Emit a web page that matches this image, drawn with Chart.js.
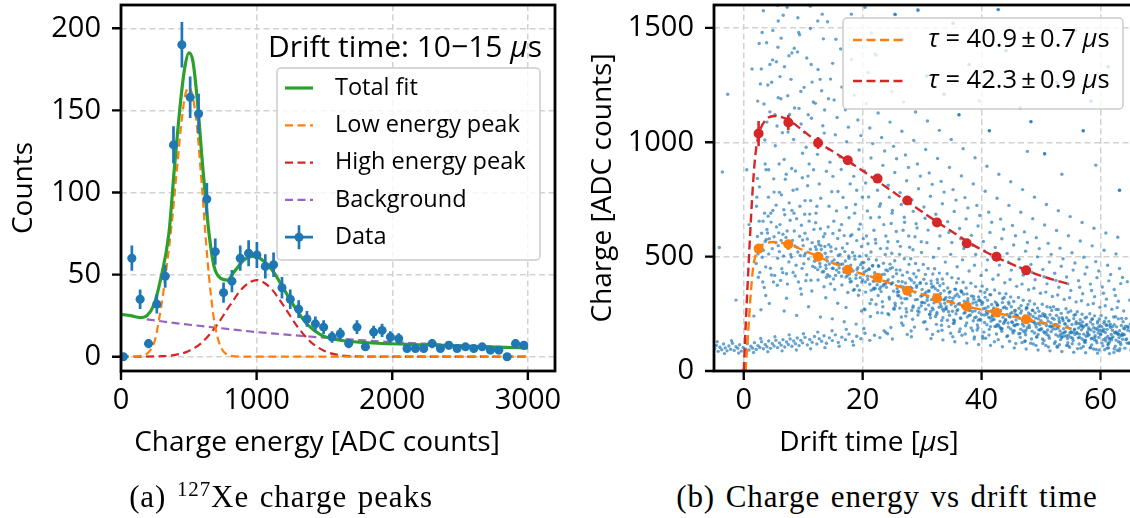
<!DOCTYPE html>
<html>
<head>
<meta charset="utf-8">
<script src="https://cdn.jsdelivr.net/npm/chart.js@4.4.1/dist/chart.umd.min.js"></script>
<style>
html, body { margin: 0; padding: 0; background: #fff; width: 1130px; height: 518px; overflow: hidden; position: relative; }
canvas { position: absolute; top: 0; }
#left { left: 0; }
#right { left: 575px; }
.xt { position: absolute; font-family: 'Open Sans', sans-serif; font-size: 28px; color: #000; white-space: nowrap; transform: translate(-50%, -50%); }
.cap { position: absolute; font-family: 'Liberation Serif', serif; font-size: 31px; letter-spacing: 0.9px; word-spacing: 2px; color: #000; white-space: nowrap; transform: translate(-50%, -50%); }
.cap sup { font-size: 21px; vertical-align: 11px; line-height: 0; }
</style>
</head>
<body>
<canvas id="left" width="565" height="470"></canvas>
<canvas id="right" width="565" height="470"></canvas>
<div class="xt" style="left:317px; top:440px;">Charge energy [ADC counts]</div>
<div class="xt" style="left:869px; top:440px;">Drift time [<i>μ</i>s]</div>
<div class="cap" style="left:281px; top:497px;">(a) <sup>127</sup>Xe charge peaks</div>
<div class="cap" style="left:887px; top:497px;">(b) Charge energy vs drift time</div>
<script>
// ---- (a) charge spectrum, drift time 10-15 us ----
const binCenters = [18, 80, 141, 203, 264, 326, 387, 449, 510, 572, 633, 695, 756, 818, 879, 941, 1002, 1064, 1125, 1187,
  1248, 1310, 1371, 1433, 1494, 1556, 1617, 1679, 1740, 1802, 1863, 1925, 1986, 2048, 2109, 2171, 2232, 2294, 2355, 2417,
  2478, 2540, 2601, 2663, 2724, 2786, 2847, 2909, 2970];
const counts = [0, 60, 35, 8, 32, 49, 129, 190, 158, 148, 96, 64, 39, 46, 60, 63, 62, 55, 56, 42,
  35, 29, 23, 20, 18, 12, 14, 8, 18, 6, 15, 16, 12, 11, 5, 5, 5, 8, 5, 7,
  5, 6, 5, 6, 4, 4, 0, 8, 7];
const countErr = [0, 7.7, 5.9, 2.8, 5.7, 7, 11.4, 13.8, 12.6, 12.2, 9.8, 8, 6.2, 6.8, 7.7, 7.9, 7.9, 7.4, 7.5, 6.5,
  5.9, 5.4, 4.8, 4.5, 4.2, 3.5, 3.7, 2.8, 4.2, 2.4, 3.9, 4, 3.5, 3.3, 2.2, 2.2, 2.2, 2.8, 2.2, 2.6,
  2.2, 2.4, 2.2, 2.4, 2, 2, 0, 2.8, 2.6];
const binHalfWidth = 30;

const totalFit = [[0, 25.8], [70, 25], [140, 23.8], [193, 25.2], [242, 31.5], [291, 46.7], [353, 75], [395, 116], [440, 156],
  [470, 176], [501, 185], [530, 180], [563, 156], [600, 118], [625, 95], [649, 75], [686, 55], [736, 47.7], [785, 46.7],
  [835, 51.8], [909, 59], [983, 61.3], [1057, 57.9], [1131, 50.8], [1205, 40.6], [1279, 30.5], [1378, 19.3], [1477, 13.2],
  [1575, 10.6], [1822, 8.5], [2316, 7.1], [3000, 5.3]];
const lowPeak = [[0, 0], [150, 0.5], [217, 4], [250, 10], [279, 22], [310, 38], [340, 57], [373, 80], [410, 112], [440, 138],
  [470, 158], [500, 164], [530, 158], [560, 140], [600, 100], [625, 72], [650, 48], [680, 26], [703, 15], [730, 7], [770, 2],
  [850, 0.2], [950, 0], [3000, 0]];
const highPeak = [[0, 0], [300, 0.3], [400, 1.1], [500, 3.5], [600, 8.9], [700, 18.4], [800, 30.9], [900, 42.1], [1000, 46.7],
  [1100, 42.1], [1200, 30.9], [1300, 18.4], [1400, 8.9], [1500, 3.5], [1600, 1.1], [1700, 0.3], [1800, 0.1], [2000, 0], [3000, 0]];
const background = [[190, 22.7], [400, 20.5], [600, 18.6], [800, 16.8], [1000, 15], [1200, 13.6], [1400, 12.2], [1600, 11],
  [1800, 9.9], [2000, 8.9], [2300, 7.7], [2600, 6.6], [3000, 5.2]];

const leftXTicks = [0, 1000, 2000, 3000];
const leftYTicks = [0, 50, 100, 150, 200];
const leftNote = 'Drift time: 10\u221215 \u03bcs';

// ---- (b) charge vs drift time ----
const binTimes = [2.5, 7.5, 12.5, 17.5, 22.5, 27.5, 32.5, 37.5, 42.5, 47.5];
const highCharge = [1038, 1086, 997, 921, 841, 745, 649, 558, 500, 440];
const highErr = [55, 33, 26, 15, 14, 12, 12, 12, 12, 12];
const lowCharge = [535, 554, 499, 443, 408, 351, 318, 282, 256, 226];
const lowErr = [16, 12, 10, 9, 9, 8, 8, 8, 8, 8];

const highFit = [[0, 0], [0.4, 240], [0.8, 455], [1.4, 750], [1.9, 930], [2.5, 1030], [3.8, 1100], [5.2, 1115], [6.6, 1108],
  [7.5, 1098], [10, 1050], [12.5, 1000], [15, 960], [17.5, 918], [20, 875], [22.5, 830], [25, 785], [27.5, 740], [30, 696],
  [32.5, 652], [35, 610], [37.5, 568], [40, 530], [42.5, 497], [45, 468], [47.5, 440], [50, 416], [52.5, 396], [55, 378]];
const lowFit = [[0.3, 0], [0.7, 150], [1.1, 310], [1.6, 455], [2.5, 535], [3.5, 556], [5, 564], [6, 562], [7.5, 554], [10, 528],
  [12.5, 500], [15, 472], [17.5, 445], [20, 424], [22.5, 404], [25, 380], [27.5, 356], [30, 336], [32.5, 317], [35, 299],
  [37.5, 282], [40, 268], [42.5, 254], [45, 240], [47.5, 226], [50, 212], [52.5, 199], [55, 186]];
const fitLabels = ['\u03c4 = 40.9\u2009\u00b1\u20090.7 \u03bcs', '\u03c4 = 42.3\u2009\u00b1\u20090.9 \u03bcs'];

const rightXTicks = [0, 20, 40, 60];
const rightYTicks = [0, 500, 1000, 1500];

// individual events [drift time, charge]
const lowBand = [
  [-4.9, 98], [-4.6, 112], [-4.3, 86], [-4.0, 104], [-3.7, 93], [-3.4, 118], [-3.1, 101], [-2.8, 88], [-2.5, 109], [-2.2, 95],
  [-1.9, 121], [-1.6, 90], [-1.3, 106], [-1.0, 99], [-0.7, 115], [-0.4, 87], [-0.1, 103], [0.3, 96], [0.6, 119], [0.9, 92],
  [1.2, 108], [1.5, 100], [1.8, 124], [2.1, 94], [2.4, 111], [2.7, 103], [3.0, 128], [3.3, 97], [3.6, 116], [3.9, 106],
  [4.2, 131], [4.5, 99], [4.8, 120], [5.1, 109], [5.4, 134], [5.7, 102], [6.0, 123], [6.3, 113], [6.6, 137], [6.9, 105],
  [7.2, 127], [7.5, 116], [7.8, 140], [8.1, 108], [8.4, 131], [8.7, 119], [9.0, 144], [9.3, 111], [9.6, 134], [9.9, 123],
  [10.3, 147], [10.7, 114], [11.1, 138], [11.5, 126], [11.9, 151], [12.3, 118], [12.7, 141], [13.1, 130], [13.5, 154], [13.9, 121],
  [14.4, 145], [14.9, 133], [15.4, 158], [15.9, 125], [16.5, 148], [17.1, 137], [17.7, 161], [18.3, 129], [19.0, 152], [19.7, 141],
  [20.4, 165], [21.2, 134], [22.0, 156], [22.9, 146], [23.9, 168], [25.0, 140],
  [-4.45, 128], [-3.25, 76], [-2.05, 132], [-0.85, 79], [0.45, 135], [1.65, 81], [2.85, 142], [4.05, 84], [5.25, 150], [6.45, 88],
  [7.65, 158], [8.85, 92], [10.05, 163], [11.25, 97], [12.45, 170], [13.65, 102], [14.85, 176], [16.05, 108], [17.25, 182], [18.45, 113]
];
const sparseEvents = [
  [-4.1, 540], [-3.6, 870], [-2.7, 1210], [-1.3, 310], [0.5, 880], [0.9, 640], [1.4, 1320], [1.7, 240],
  [22.3, 1380], [26.7, 1450], [30.8, 1290], [35.2, 1520], [39.6, 1180], [44.1, 1400], [48.3, 1090], [52.7, 1260], [57.1, 1050],
  [61.3, 1330], [25.4, 1560], [33.7, 1210], [42.8, 1580], [50.6, 950], [59.2, 900], [46.5, 1150], [37.9, 1340], [55.8, 1490],
  [29.3, 1580], [18.1, 1560], [11.2, 1595], [7.3, 1590], [15.5, 1450], [36.2, 1120], [41.3, 1050], [53.5, 860], [63.2, 790],
  [58.4, 1180], [47.7, 960], [20.4, 1590], [3.1, 1480], [5.8, 1530], [9.4, 1470], [13.2, 1560], [4.4, 1340], [8.1, 1390],
  [2.15, 720], [2.65, 805], [3.25, 655], [3.75, 880], [4.15, 760], [4.55, 690], [5.05, 840], [5.45, 725], [5.95, 905], [6.35, 770],
  [6.75, 705], [7.15, 860], [7.65, 735], [8.05, 885], [8.45, 690], [8.95, 795], [9.45, 720], [9.85, 845], [10.25, 685], [10.75, 810],
  [11.25, 745], [11.75, 880], [2.45, 410], [3.45, 365], [4.65, 420], [5.65, 375], [6.55, 430], [7.35, 380], [8.65, 415], [9.55, 360],
  [10.45, 395], [11.45, 350], [2.35, 1180], [2.95, 1320], [3.55, 1010], [4.05, 1250], [4.85, 1360], [5.25, 1120], [5.75, 1415],
  [6.25, 1190], [6.85, 1330], [7.45, 1045], [7.95, 1275], [8.55, 1150], [9.05, 1395], [9.65, 1080], [10.15, 1240], [10.85, 1120],
  [11.35, 1340], [12.05, 1170], [12.85, 1275], [13.55, 1040], [14.25, 1190], [14.95, 1345], [3.85, 1435], [6.65, 1555], [9.25, 1480],
  [12.45, 1530], [12.15, 690], [12.95, 755], [13.65, 600], [14.35, 720], [15.15, 655], [15.85, 785], [16.45, 640], [17.25, 715],
  [17.95, 590], [18.65, 690], [19.35, 620], [19.95, 760], [20.65, 590], [21.35, 670], [22.15, 575], [22.85, 720], [23.55, 640],
  [24.25, 565], [24.95, 690], [25.65, 610], [26.35, 545], [27.05, 650], [27.75, 590], [28.45, 530], [29.15, 625], [29.85, 565],
  [24.75, 190], [28.15, 175], [31.75, 160], [35.15, 150], [38.75, 140], [42.15, 128], [45.75, 120], [49.15, 112], [52.75, 104],
  [56.15, 98], [59.75, 92], [63.15, 88], [26.55, 210], [33.35, 178], [40.15, 152], [47.35, 131], [54.55, 111], [61.35, 101]
];
const bandInfill = [
  [12.05, 543], [12.45, 443], [12.65, 553], [12.85, 456], [13.05, 531], [13.45, 435], [13.65, 544], [13.85, 448],
  [14.05, 481], [14.45, 414], [14.65, 542], [14.85, 478], [15.05, 448], [15.45, 418], [15.65, 471], [15.85, 471],
  [16.05, 450], [16.45, 414], [16.65, 468], [16.85, 433], [17.05, 434], [17.45, 417], [17.65, 503], [17.85, 403],
  [18.05, 446], [18.45, 353], [18.65, 503], [18.85, 405], [19.05, 444], [19.45, 353], [19.65, 465], [19.85, 389],
  [20.05, 450], [20.45, 389], [20.65, 438], [20.85, 400], [20.25, 271], [21.05, 445], [21.45, 353], [21.65, 460], [21.85, 362], [21.25, 295],
  [22.05, 394], [22.45, 377], [22.65, 460], [22.85, 359], [22.25, 292], [23.05, 367], [23.45, 373], [23.65, 423], [23.85, 381], [23.25, 254],
  [24.05, 391], [24.45, 323], [24.65, 447], [24.85, 381], [24.25, 251], [25.05, 386], [25.45, 296], [25.65, 442], [25.85, 344], [25.25, 274],
  [26.05, 347], [26.45, 319], [26.65, 390], [26.85, 367], [26.25, 275], [27.05, 343], [27.45, 316], [27.65, 363], [27.85, 362], [27.25, 240],
  [28.05, 366], [28.45, 278], [28.65, 386], [28.85, 311], [28.25, 265], [29.05, 366], [29.45, 275], [29.65, 382], [29.85, 285], [29.25, 262],
  [30.05, 330], [30.45, 298], [30.65, 344], [30.85, 309], [30.25, 213], [30.55, 422], [31.05, 350], [31.45, 260], [31.65, 366], [31.85, 269], [31.25, 248], [31.55, 381],
  [32.05, 333], [32.45, 248], [32.65, 352], [32.85, 279], [32.25, 238], [32.55, 400], [33.05, 294], [33.45, 271], [33.65, 312], [33.85, 314], [33.25, 200], [33.55, 382],
  [34.05, 281], [34.45, 259], [34.65, 322], [34.85, 303], [34.25, 222], [34.55, 342], [35.05, 304], [35.45, 220], [35.65, 356], [35.85, 264], [35.25, 208], [35.55, 328],
  [36.05, 292], [36.45, 232], [36.65, 344], [36.85, 285], [36.25, 172], [36.55, 350], [37.05, 253], [37.45, 268], [37.65, 305], [37.85, 270], [37.25, 162], [37.55, 337],
  [38.05, 265], [38.45, 259], [38.65, 326], [38.85, 233], [38.25, 188], [38.55, 297], [39.05, 301], [39.45, 222], [39.65, 311], [39.85, 223], [39.25, 179], [39.55, 308],
  [40.05, 292], [40.45, 245], [40.65, 274], [40.85, 248], [40.25, 143], [40.55, 343], [41.05, 254], [41.45, 231], [41.65, 263], [41.85, 238], [41.25, 157], [41.55, 333],
  [42.05, 276], [42.45, 195], [42.65, 287], [42.85, 201], [42.25, 195], [42.55, 295], [43.05, 261], [43.45, 185], [43.65, 276], [43.85, 214], [43.25, 187], [43.55, 316],
  [44.05, 224], [44.45, 210], [44.65, 238], [44.85, 251], [44.25, 151], [44.55, 301], [45.05, 214], [45.45, 200], [45.65, 250], [45.85, 242], [45.25, 175], [45.55, 264],
  [46.05, 238], [46.45, 164], [46.65, 286], [46.85, 205], [46.25, 163], [46.55, 253], [47.05, 228], [47.45, 178], [47.65, 276], [47.85, 228], [47.25, 129], [47.55, 277],
  [48.05, 190], [48.45, 216], [48.65, 238], [48.85, 214], [48.25, 121], [48.55, 266], [49.05, 203], [49.45, 208], [49.65, 261], [49.85, 179], [49.25, 148], [49.55, 228],
  [50.05, 240], [50.45, 172], [50.65, 247], [50.85, 170], [50.25, 140], [50.55, 241], [51.05, 232], [51.45, 196], [51.65, 211], [51.85, 196], [51.25, 105], [51.55, 278],
  [52.05, 196], [52.45, 184], [52.65, 202], [52.85, 187], [52.25, 120], [52.55, 269], [53.05, 220], [53.45, 150], [53.65, 228], [53.85, 152], [53.25, 159], [53.55, 233],
  [54.05, 207], [54.45, 142], [54.65, 219], [54.85, 167], [54.25, 153], [54.55, 257], [55.05, 172], [55.45, 169], [55.65, 183], [55.85, 206], [55.25, 119], [55.55, 244],
  [56.05, 164], [56.45, 161], [56.65, 197], [56.85, 199], [56.25, 145], [56.55, 209], [57.05, 190], [57.45, 126], [57.65, 235], [57.85, 164], [57.25, 134], [57.55, 200],
  [58.05, 182], [58.45, 141], [58.65, 227], [58.85, 189], [58.25, 101], [58.55, 226], [59.05, 147], [59.45, 181], [59.65, 192], [59.85, 177], [59.25, 94], [59.55, 218],
  [60.05, 162], [60.45, 174], [60.65, 217], [60.85, 143], [60.25, 122], [60.55, 183], [61.05, 201], [61.45, 140], [61.65, 205], [61.85, 136], [61.25, 115], [61.55, 198],
  [62.05, 194], [62.45, 166], [62.65, 171], [62.85, 164], [62.25, 81], [62.55, 237], [63.05, 160], [63.45, 155], [63.65, 163], [63.85, 157], [63.25, 97], [63.55, 230],
  [64.05, 185], [64.45, 122], [64.65, 190], [64.85, 123], [64.25, 137], [64.55, 195], [65.05, 174], [65.45, 115], [65.25, 188]
];
const bandEvents = [
  [2.1, 470], [2.3, 588], [2.4, 512], [2.6, 655], [2.7, 431], [2.9, 547], [3.0, 602], [3.2, 389], [3.3, 528], [3.5, 690], [3.6, 566], [3.7, 455], [3.9, 619], [2.2, 540], [3.1, 497], [3.8, 575],
  [2.5, 1012], [3.4, 1167], [2.8, 1255], [3.6, 905], [2.3, 842], [3.9, 1088], [2.6, 1432], [3.3, 1575], [2.9, 268], [3.7, 330], [2.2, 760],
  [4.0, 603], [4.2, 512], [4.3, 578], [4.5, 449], [4.6, 651], [4.8, 535], [4.9, 702], [5.1, 587], [5.2, 418], [5.4, 561], [5.5, 630], [5.7, 493], [5.8, 548], [4.1, 677], [5.0, 389], [5.9, 604],
  [4.4, 1133], [5.3, 985], [4.7, 1262], [5.6, 1071], [4.2, 880], [5.8, 1195], [4.9, 1489], [5.5, 1352], [4.3, 295], [5.1, 782], [5.7, 1598],
  [6.0, 522], [6.1, 640], [6.3, 571], [6.4, 447], [6.6, 598], [6.7, 503], [6.9, 683], [7.0, 551], [7.2, 425], [7.3, 612], [7.5, 536], [7.6, 477], [7.8, 659], [6.2, 396], [7.1, 584], [7.9, 509],
  [6.5, 1042], [7.4, 1203], [6.8, 925], [7.7, 1121], [6.1, 1287], [7.0, 838], [6.3, 1455], [7.6, 1378], [6.8, 262], [7.2, 318], [6.0, 781],
  [8.0, 498], [8.2, 571], [8.3, 431], [8.5, 612], [8.6, 547], [8.8, 462], [8.9, 666], [9.1, 520], [9.2, 389], [9.4, 589], [9.5, 505], [9.7, 637], [9.8, 448], [8.1, 702], [9.0, 540], [9.9, 573],
  [8.4, 1012], [9.3, 1148], [8.7, 874], [9.6, 1222], [8.2, 1081], [9.9, 952], [8.5, 1411], [9.1, 1544], [8.9, 243], [9.7, 336], [8.3, 790],
  [10.0, 548], [10.1, 469], [10.3, 602], [10.4, 515], [10.6, 421], [10.7, 577], [10.9, 490], [11.0, 655], [11.2, 532], [11.3, 397], [11.5, 561], [11.6, 458], [11.8, 619], [10.2, 505], [11.1, 686], [11.9, 480],
  [10.5, 978], [11.4, 1105], [10.8, 852], [11.7, 1176], [10.2, 1043], [11.0, 905], [10.6, 1368], [11.5, 1263], [10.9, 281], [11.2, 1497], [10.3, 745],
  [12.0, 452], [12.2, 531], [12.3, 489], [12.5, 398], [12.6, 566], [12.8, 470], [12.9, 622], [13.1, 505], [13.2, 433], [13.4, 587], [13.5, 368], [13.7, 515], [13.8, 462], [12.1, 648], [13.0, 547], [13.9, 410],
  [12.4, 947], [13.3, 1072], [12.7, 818], [13.6, 1141], [12.2, 1006], [13.9, 873], [12.5, 1318], [13.1, 1225], [12.9, 236], [13.8, 320], [12.3, 720], [13.4, 1452],
  [14.0, 497], [14.1, 421], [14.3, 552], [14.4, 468], [14.6, 381], [14.7, 523], [14.9, 449], [15.0, 601], [15.2, 486], [15.3, 356], [15.5, 534], [15.6, 441], [15.8, 579], [14.2, 630], [15.1, 402], [15.9, 505],
  [14.5, 913], [15.4, 1033], [14.8, 784], [15.7, 1108], [14.3, 970], [15.0, 851], [14.6, 1276], [15.2, 1185], [14.9, 228], [15.6, 700], [14.1, 1527], [15.8, 296],
  [16.0, 431], [16.2, 509], [16.3, 466], [16.5, 376], [16.6, 538], [16.8, 447], [16.9, 592], [17.1, 481], [17.2, 411], [17.4, 557], [17.5, 343], [17.7, 493], [17.8, 424], [16.1, 615], [17.0, 522], [17.9, 389],
  [16.4, 881], [17.3, 1002], [16.7, 759], [17.6, 1066], [16.2, 936], [17.9, 818], [16.5, 1241], [17.1, 1142], [16.9, 215], [17.7, 670], [16.3, 1408], [17.2, 278],
  [18.0, 463], [18.1, 392], [18.3, 518], [18.4, 437], [18.6, 356], [18.7, 489], [18.9, 420], [19.0, 570], [19.2, 452], [19.3, 331], [19.5, 502], [19.6, 408], [19.8, 544], [18.2, 596], [19.1, 373], [19.9, 474],
  [18.5, 851], [19.4, 966], [18.8, 728], [19.7, 1029], [18.3, 905], [19.0, 790], [18.6, 1206], [19.2, 1097], [18.9, 205], [19.6, 642], [18.1, 1362], [19.8, 262],
  [20.0, 398], [20.2, 474], [20.3, 433], [20.5, 345], [20.6, 505], [20.8, 414], [20.9, 556], [21.1, 446], [21.2, 379], [21.4, 520], [21.5, 312], [21.7, 460], [21.8, 392], [20.1, 578], [21.0, 489], [21.9, 357], [20.4, 268], [21.3, 238],
  [20.5, 822], [21.4, 931], [20.8, 700], [21.7, 994], [20.3, 875], [21.0, 761], [20.6, 1168], [21.2, 1062], [21.9, 615], [20.9, 1305], [21.5, 1478], [20.2, 186],
  [22.0, 430], [22.1, 362], [22.3, 485], [22.4, 407], [22.6, 330], [22.7, 458], [22.9, 391], [23.0, 535], [23.2, 421], [23.3, 303], [23.5, 471], [23.6, 379], [23.8, 509], [22.2, 559], [23.1, 347], [23.9, 442], [22.5, 255], [23.4, 281],
  [22.5, 790], [23.4, 899], [22.8, 672], [23.7, 962], [22.3, 842], [23.0, 731], [22.6, 1128], [23.2, 1021], [23.9, 590], [22.9, 1264], [22.1, 1386], [23.6, 176],
  [24.0, 366], [24.2, 438], [24.3, 399], [24.5, 315], [24.6, 467], [24.8, 381], [24.9, 515], [25.1, 412], [25.2, 349], [25.4, 482], [25.5, 285], [25.7, 425], [25.8, 360], [24.1, 537], [25.0, 452], [25.9, 330], [24.4, 246], [25.3, 270],
  [24.5, 760], [25.4, 868], [24.8, 645], [25.7, 928], [24.3, 812], [25.0, 702], [24.6, 1088], [25.2, 982], [25.9, 566], [24.9, 1221], [25.5, 1558], [24.2, 163],
  [26.0, 392], [26.1, 329], [26.3, 441], [26.4, 371], [26.6, 297], [26.7, 419], [26.9, 356], [27.0, 491], [27.2, 385], [27.3, 272], [27.5, 432], [27.6, 344], [27.8, 466], [26.2, 510], [27.1, 316], [27.9, 405], [26.5, 236], [27.4, 258], [26.8, 200],
  [26.5, 728], [27.4, 832], [26.8, 615], [27.7, 890], [26.3, 780], [27.0, 672], [26.6, 1048], [27.2, 944], [27.9, 541], [26.9, 1176], [26.7, 1447], [27.5, 160],
  [28.0, 330], [28.2, 397], [28.3, 361], [28.5, 284], [28.6, 425], [28.8, 345], [28.9, 470], [29.1, 374], [29.2, 313], [29.4, 440], [29.5, 258], [29.7, 387], [29.8, 327], [28.1, 491], [29.0, 411], [29.9, 300], [28.4, 226], [29.3, 245], [28.7, 192],
  [28.5, 698], [29.4, 797], [28.8, 587], [29.7, 852], [28.3, 748], [29.0, 644], [28.6, 1008], [29.2, 905], [29.9, 518], [28.9, 1132], [29.3, 1576], [28.2, 150],
  [30.0, 356], [30.1, 300], [30.3, 401], [30.4, 337], [30.6, 270], [30.7, 382], [30.9, 322], [31.0, 448], [31.2, 350], [31.3, 247], [31.5, 394], [31.6, 312], [31.8, 424], [30.2, 466], [31.1, 288], [31.9, 370], [30.5, 215], [31.4, 233], [30.8, 183], [31.7, 276],
  [30.5, 668], [31.4, 764], [30.8, 561], [31.7, 816], [30.3, 717], [31.0, 616], [30.6, 968], [31.2, 866], [31.9, 497], [30.9, 1093], [30.8, 1290], [31.5, 142],
  [32.0, 298], [32.2, 360], [32.3, 327], [32.5, 256], [32.6, 386], [32.8, 313], [32.9, 428], [33.1, 339], [33.2, 283], [33.4, 402], [33.5, 233], [33.7, 351], [33.8, 296], [32.1, 447], [33.0, 373], [33.9, 271], [32.4, 204], [33.3, 221], [32.7, 174], [33.6, 262],
  [32.5, 637], [33.4, 731], [32.8, 536], [33.7, 782], [32.3, 685], [33.0, 590], [32.6, 929], [33.2, 829], [33.9, 476], [32.9, 1052], [33.7, 1210], [33.5, 136],
  [34.0, 322], [34.1, 271], [34.3, 363], [34.4, 305], [34.6, 244], [34.7, 347], [34.9, 291], [35.0, 408], [35.2, 318], [35.3, 223], [35.5, 358], [35.6, 282], [35.8, 386], [34.2, 425], [35.1, 261], [35.9, 336], [34.5, 194], [35.4, 210], [34.8, 165], [35.7, 250],
  [34.5, 606], [35.4, 697], [34.8, 510], [35.7, 747], [34.3, 653], [35.0, 562], [34.6, 890], [35.2, 793], [35.9, 456], [34.9, 1012], [35.2, 1520], [35.5, 128],
  [36.0, 268], [36.2, 325], [36.3, 295], [36.5, 230], [36.6, 349], [36.8, 282], [36.9, 388], [37.1, 305], [37.2, 255], [37.4, 363], [37.5, 210], [37.7, 316], [37.8, 266], [36.1, 404], [37.0, 336], [37.9, 243], [36.4, 184], [37.3, 198], [36.7, 156], [37.6, 236],
  [36.5, 578], [37.4, 665], [36.8, 486], [37.7, 713], [36.3, 623], [37.0, 535], [36.6, 853], [37.2, 758], [37.9, 437], [36.9, 972], [36.2, 1120], [37.5, 122],
  [38.0, 291], [38.1, 245], [38.3, 328], [38.4, 276], [38.6, 220], [38.7, 314], [38.9, 263], [39.0, 369], [39.2, 288], [39.3, 201], [39.5, 324], [39.6, 255], [39.8, 349], [38.2, 384], [39.1, 236], [39.9, 304], [38.5, 176], [39.4, 189], [38.8, 149], [39.7, 226],
  [38.5, 550], [39.4, 634], [38.8, 462], [39.7, 680], [38.3, 593], [39.0, 509], [38.6, 818], [39.2, 724], [39.9, 418], [38.9, 932], [37.9, 1340], [39.5, 116],
  [40.0, 246], [40.2, 300], [40.3, 272], [40.5, 212], [40.6, 322], [40.8, 260], [40.9, 356], [41.1, 281], [41.2, 235], [41.4, 334], [41.5, 194], [41.7, 291], [41.8, 245], [40.1, 371], [41.0, 309], [41.9, 224], [40.4, 170], [41.3, 182], [40.7, 143], [41.6, 218], [40.9, 202],
  [40.5, 525], [41.4, 606], [40.8, 441], [41.7, 650], [40.3, 566], [41.0, 486], [40.6, 786], [41.2, 694], [41.9, 401], [40.9, 895], [41.3, 1050], [41.5, 112],
  [42.0, 268], [42.1, 225], [42.3, 302], [42.4, 254], [42.6, 202], [42.7, 289], [42.9, 242], [43.0, 340], [43.2, 265], [43.3, 185], [43.5, 299], [43.6, 235], [43.8, 321], [42.2, 354], [43.1, 217], [43.9, 280], [42.5, 162], [43.4, 174], [42.8, 137], [43.7, 208], [43.0, 193],
  [42.5, 500], [43.4, 578], [42.8, 420], [43.7, 620], [42.3, 540], [43.0, 463], [42.6, 755], [43.2, 664], [43.9, 386], [42.9, 860], [42.8, 1580], [43.5, 106],
  [44.0, 222], [44.2, 273], [44.3, 247], [44.5, 192], [44.6, 293], [44.8, 236], [44.9, 324], [45.1, 256], [45.2, 213], [45.4, 304], [45.5, 176], [45.7, 265], [45.8, 223], [44.1, 338], [45.0, 281], [45.9, 203], [44.4, 154], [45.3, 166], [44.7, 130], [45.6, 198], [44.9, 184],
  [44.5, 476], [45.4, 551], [44.8, 400], [45.7, 591], [44.3, 514], [45.0, 441], [44.6, 724], [45.2, 636], [45.9, 370], [44.9, 827], [44.1, 1400], [45.5, 101],
  [46.0, 243], [46.1, 204], [46.3, 274], [46.4, 230], [46.6, 183], [46.7, 262], [46.9, 219], [47.0, 309], [47.2, 240], [47.3, 168], [47.5, 271], [47.6, 213], [47.8, 291], [46.2, 321], [47.1, 197], [47.9, 254], [46.5, 147], [47.4, 158], [46.8, 124], [47.7, 189], [47.0, 175],
  [46.5, 452], [47.4, 524], [46.8, 380], [47.7, 562], [46.3, 489], [47.0, 419], [46.6, 694], [47.2, 608], [47.9, 355], [46.9, 793], [46.5, 1150], [47.5, 96],
  [48.0, 200], [48.2, 247], [48.3, 223], [48.5, 174], [48.6, 265], [48.8, 213], [48.9, 293], [49.1, 231], [49.2, 192], [49.4, 275], [49.5, 160], [49.7, 240], [49.8, 202], [48.1, 306], [49.0, 254], [49.9, 183], [48.4, 140], [49.3, 150], [48.7, 118], [49.6, 180], [48.9, 166],
  [48.5, 431], [49.4, 499], [48.8, 362], [49.7, 535], [48.3, 466], [49.0, 399], [48.6, 666], [49.2, 583], [49.9, 340], [48.9, 760], [48.3, 1090], [49.5, 92],
  [50.0, 220], [50.1, 185], [50.3, 250], [50.4, 209], [50.6, 166], [50.7, 238], [50.9, 199], [51.0, 281], [51.2, 218], [51.3, 153], [51.5, 246], [51.6, 193], [51.8, 265], [50.2, 292], [51.1, 179], [51.9, 231], [50.5, 133], [51.4, 143], [50.8, 112], [51.7, 172], [51.0, 159], [50.3, 120],
  [50.5, 412], [51.4, 476], [50.8, 345], [51.7, 510], [50.3, 444], [51.0, 381], [50.6, 638], [51.2, 558], [51.9, 326], [50.9, 728], [50.6, 950], [51.5, 88],
  [52.0, 183], [52.2, 226], [52.3, 204], [52.5, 159], [52.6, 243], [52.8, 195], [52.9, 269], [53.1, 211], [53.2, 175], [53.4, 252], [53.5, 146], [53.7, 220], [53.8, 185], [52.1, 281], [53.0, 232], [53.9, 167], [52.4, 128], [53.3, 137], [52.7, 108], [53.6, 165], [52.9, 152], [53.1, 115],
  [52.5, 396], [53.4, 458], [52.8, 332], [53.7, 491], [52.3, 427], [53.0, 366], [52.6, 614], [53.2, 537], [53.9, 313], [52.9, 701], [52.7, 1260], [53.5, 85],
  [54.0, 205], [54.1, 172], [54.3, 233], [54.4, 195], [54.6, 155], [54.7, 222], [54.9, 186], [55.0, 262], [55.2, 203], [55.3, 143], [55.5, 229], [55.6, 180], [55.8, 247], [54.2, 272], [55.1, 167], [55.9, 215], [54.5, 124], [55.4, 133], [54.8, 104], [55.7, 160], [55.0, 148], [54.3, 112],
  [54.5, 381], [55.4, 441], [54.8, 320], [55.7, 472], [54.3, 411], [55.0, 352], [54.6, 591], [55.2, 517], [55.9, 302], [54.9, 675], [55.8, 1490], [55.5, 82],
  [56.0, 169], [56.2, 208], [56.3, 188], [56.5, 147], [56.6, 224], [56.8, 180], [56.9, 248], [57.1, 195], [57.2, 161], [57.4, 232], [57.5, 135], [57.7, 203], [57.8, 171], [56.1, 259], [57.0, 214], [57.9, 154], [56.4, 118], [57.3, 127], [56.7, 100], [57.6, 152], [56.9, 140], [57.1, 107],
  [56.5, 366], [57.4, 424], [56.8, 307], [57.7, 454], [56.3, 395], [57.0, 338], [56.6, 568], [57.2, 497], [57.9, 290], [56.9, 649], [57.1, 1050], [57.5, 80],
  [58.0, 189], [58.1, 158], [58.3, 214], [58.4, 179], [58.6, 143], [58.7, 204], [58.9, 171], [59.0, 241], [59.2, 186], [59.3, 132], [59.5, 210], [59.6, 166], [59.8, 227], [58.2, 250], [59.1, 154], [59.9, 198], [58.5, 114], [59.4, 123], [58.8, 96], [59.7, 147], [59.0, 136], [58.3, 103],
  [58.5, 352], [59.4, 408], [58.8, 295], [59.7, 437], [58.3, 380], [59.0, 325], [58.6, 547], [59.2, 478], [59.9, 279], [58.9, 624], [58.4, 1180], [59.5, 78],
  [60.0, 158], [60.2, 194], [60.3, 176], [60.5, 137], [60.6, 209], [60.8, 168], [60.9, 232], [61.1, 182], [61.2, 151], [61.4, 217], [61.5, 126], [61.7, 190], [61.8, 160], [60.1, 242], [61.0, 200], [61.9, 144], [60.4, 110], [61.3, 119], [60.7, 93], [61.6, 142], [60.9, 131], [61.1, 100],
  [60.5, 340], [61.4, 394], [60.8, 285], [61.7, 422], [60.3, 367], [61.0, 314], [60.6, 528], [61.2, 462], [61.9, 270], [60.9, 603], [61.3, 1330], [61.5, 76],
  [62.0, 178], [62.1, 149], [62.3, 202], [62.4, 169], [62.6, 135], [62.7, 193], [62.9, 162], [63.0, 228], [63.2, 176], [63.3, 125], [63.5, 199], [63.6, 157], [63.8, 215], [62.2, 236], [63.1, 146], [63.9, 187], [62.5, 108], [63.4, 116], [62.8, 91], [63.7, 139], [63.0, 128], [62.3, 97],
  [62.5, 330], [63.4, 382], [62.8, 277], [63.7, 409], [62.3, 356], [63.0, 305], [62.6, 512], [63.2, 448], [63.9, 262], [62.9, 585], [63.2, 790],
  [64.0, 160], [64.2, 196], [64.4, 140], [64.6, 178], [64.8, 121], [65.0, 205], [65.2, 150], [65.4, 170], [65.6, 132], [64.3, 230], [64.9, 310], [65.5, 265], [64.1, 100], [65.1, 92], [64.5, 390], [65.3, 470]
];

const FONT = "'Open Sans', sans-serif";
Chart.defaults.font.family = FONT;
Chart.defaults.color = '#000';

const toXY = arr => arr.map(([x, y]) => ({ x, y }));

// text with the greek letters set in italic, like matplotlib mathtext
function mathText(ctx, str, x, y, size, align) {
  const parts = [];
  for (const ch of str) {
    const it = /[\u03bc\u03c4]/.test(ch);
    if (parts.length && parts[parts.length - 1].it === it) parts[parts.length - 1].t += ch;
    else parts.push({ t: ch, it });
  }
  const fontOf = p => (p.it ? 'italic ' : '') + size + 'px ' + FONT;
  let w = 0;
  parts.forEach(p => { ctx.font = fontOf(p); p.w = ctx.measureText(p.t).width; w += p.w; });
  let cx = align === 'right' ? x - w : x;
  ctx.textBaseline = 'middle';
  ctx.textAlign = 'left';
  parts.forEach(p => { ctx.font = fontOf(p); ctx.fillText(p.t, cx, y); cx += p.w; });
}

const errorBars = {
  id: 'errorBars',
  beforeDatasetDraw(chart, args) {
    const ds = chart.data.datasets[args.index];
    if (!ds.yErr) return;
    const { ctx, chartArea: a, scales: { x, y } } = chart;
    ctx.save();
    ctx.beginPath();
    ctx.rect(a.left, a.top, a.right - a.left, a.bottom - a.top);
    ctx.clip();
    ctx.strokeStyle = ds.backgroundColor;
    ctx.lineWidth = ds.errWidth;
    ds.data.forEach((p, i) => {
      const px = x.getPixelForValue(p.x), py = y.getPixelForValue(p.y);
      ctx.beginPath();
      if (ds.xErr) {
        ctx.moveTo(x.getPixelForValue(p.x - ds.xErr), py);
        ctx.lineTo(x.getPixelForValue(p.x + ds.xErr), py);
      }
      ctx.moveTo(px, y.getPixelForValue(p.y - ds.yErr[i]));
      ctx.lineTo(px, y.getPixelForValue(p.y + ds.yErr[i]));
      ctx.stroke();
    });
    ctx.restore();
  }
};

const frame = {
  id: 'frame',
  afterDatasetsDraw(chart) {
    const { ctx, chartArea: a, scales: { x, y } } = chart;
    ctx.save();
    ctx.strokeStyle = '#000';
    ctx.lineWidth = 2.8;
    ctx.strokeRect(a.left, a.top, a.right - a.left, a.bottom - a.top);
    ctx.lineWidth = 2.4;
    ctx.beginPath();
    x.ticks.forEach(t => {
      const px = x.getPixelForValue(t.value);
      ctx.moveTo(px, a.bottom); ctx.lineTo(px, a.bottom + 9);
    });
    y.ticks.forEach(t => {
      const py = y.getPixelForValue(t.value);
      ctx.moveTo(a.left, py); ctx.lineTo(a.left - 9, py);
    });
    ctx.stroke();
    ctx.restore();
  }
};

function legendBox(ctx, x, y, w, h) {
  ctx.beginPath();
  if (ctx.roundRect) ctx.roundRect(x, y, w, h, 4); else ctx.rect(x, y, w, h);
  ctx.fillStyle = 'rgba(255,255,255,0.8)';
  ctx.fill();
  ctx.strokeStyle = '#cccccc';
  ctx.lineWidth = 1.5;
  ctx.stroke();
}

const leftLegend = {
  id: 'leftLegend',
  afterDraw(chart) {
    const ctx = chart.ctx;
    const ds = chart.data.datasets;
    ctx.save();
    ctx.fillStyle = '#000';
    mathText(ctx, leftNote, 542, 48, 30, 'right');
    legendBox(ctx, 277, 68, 263, 192);
    const order = [1, 2, 3, 4, 0];
    order.forEach((k, row) => {
      const d = ds[k];
      const yy = 88 + row * 37.3;
      ctx.save();
      if (k === 0) {
        ctx.strokeStyle = d.backgroundColor;
        ctx.lineWidth = d.errWidth;
        ctx.beginPath();
        ctx.moveTo(285, yy); ctx.lineTo(313, yy);
        ctx.moveTo(299, yy - 12); ctx.lineTo(299, yy + 12);
        ctx.stroke();
        ctx.fillStyle = d.backgroundColor;
        ctx.beginPath(); ctx.arc(299, yy, d.pointRadius, 0, Math.PI * 2); ctx.fill();
      } else {
        ctx.strokeStyle = d.borderColor;
        ctx.lineWidth = d.borderWidth;
        ctx.setLineDash(d.borderDash || []);
        ctx.beginPath(); ctx.moveTo(285, yy); ctx.lineTo(313, yy); ctx.stroke();
      }
      ctx.restore();
      ctx.fillStyle = '#000';
      ctx.font = '23.5px ' + FONT;
      ctx.textBaseline = 'middle';
      ctx.textAlign = 'left';
      ctx.fillText(d.label, 335, yy);
    });
    ctx.restore();
  }
};

const rightLegend = {
  id: 'rightLegend',
  afterDraw(chart) {
    const ctx = chart.ctx;
    const ds = chart.data.datasets;
    const ox = 575;
    ctx.save();
    legendBox(ctx, 843 - ox, 18, 280, 91);
    [3, 2].forEach((k, row) => {
      const d = ds[k];
      const yy = 40 + row * 41;
      ctx.save();
      ctx.strokeStyle = d.borderColor;
      ctx.lineWidth = d.borderWidth;
      ctx.setLineDash(d.borderDash);
      ctx.beginPath(); ctx.moveTo(853 - ox, yy); ctx.lineTo(905 - ox, yy); ctx.stroke();
      ctx.restore();
      ctx.fillStyle = '#000';
      mathText(ctx, d.label, 928 - ox, yy, 25.5, 'left');
    });
    ctx.restore();
  }
};

function gridOpts() {
  return { color: '#d2d2d2', lineWidth: 1.5, drawTicks: false };
}
function setTicks(list) {
  return scale => { scale.ticks = list.map(v => ({ value: v })); };
}
function fixX(h) {
  return s => { s.height = h; s.paddingLeft = 0; s.paddingRight = 0; };
}
function fixY(w) {
  return s => { s.width = w; s.paddingTop = 0; s.paddingBottom = 0; };
}
const tickFont = { size: 29 };

new Chart(document.getElementById('left'), {
  type: 'scatter',
  data: {
    datasets: [
      { label: 'Data', data: binCenters.map((x, i) => ({ x, y: counts[i] })), backgroundColor: '#1f77b4', borderWidth: 0,
        pointRadius: 4.5, xErr: binHalfWidth, yErr: countErr, errWidth: 2.7 },
      { label: 'Total fit', data: toXY(totalFit), showLine: true, borderColor: '#2ca02c', borderWidth: 3.2, pointRadius: 0,
        cubicInterpolationMode: 'monotone' },
      { label: 'Low energy peak', data: toXY(lowPeak), showLine: true, borderColor: '#ff7f0e', borderWidth: 2.2,
        borderDash: [8, 4.5], pointRadius: 0, cubicInterpolationMode: 'monotone' },
      { label: 'High energy peak', data: toXY(highPeak), showLine: true, borderColor: '#d62728', borderWidth: 2.2,
        borderDash: [8, 4.5], pointRadius: 0, cubicInterpolationMode: 'monotone' },
      { label: 'Background', data: toXY(background), showLine: true, borderColor: '#9467bd', borderWidth: 2.2,
        borderDash: [8, 4.5], pointRadius: 0, cubicInterpolationMode: 'monotone' }
    ]
  },
  options: {
    responsive: false,
    animation: false,
    layout: { padding: { top: 5, right: 10, left: 0, bottom: 0 } },
    plugins: { legend: { display: false }, tooltip: { enabled: false } },
    scales: {
      x: {
        type: 'linear', min: 0, max: 3200,
        afterBuildTicks: setTicks(leftXTicks),
        afterFit: fixX(99),
        grid: gridOpts(),
        border: { display: false, dash: [6, 3.5] },
        ticks: { font: tickFont, padding: 12, autoSkip: false, maxRotation: 0, callback: v => String(v) }
      },
      y: {
        min: -8.7, max: 214.2,
        afterBuildTicks: setTicks(leftYTicks),
        afterFit: fixY(121),
        grid: gridOpts(),
        border: { display: false, dash: [6, 3.5] },
        ticks: { font: tickFont, padding: 20, autoSkip: false, callback: v => String(v) },
        title: { display: true, text: 'Counts', font: { size: 28 }, padding: { top: 7, bottom: 0 } }
      }
    }
  },
  plugins: [errorBars, frame, leftLegend]
});

new Chart(document.getElementById('right'), {
  type: 'scatter',
  data: {
    datasets: [
      { label: 'high points', data: binTimes.map((x, i) => ({ x, y: highCharge[i] })), backgroundColor: '#d62728', borderWidth: 0,
        pointRadius: 5, yErr: highErr, errWidth: 2.6 },
      { label: 'low points', data: binTimes.map((x, i) => ({ x, y: lowCharge[i] })), backgroundColor: '#ff7f0e', borderWidth: 0,
        pointRadius: 5, yErr: lowErr, errWidth: 2.6 },
      { label: fitLabels[1], data: toXY(highFit), showLine: true, borderColor: '#d62728', borderWidth: 2.4,
        borderDash: [9, 4.5], pointRadius: 0, cubicInterpolationMode: 'monotone' },
      { label: fitLabels[0], data: toXY(lowFit), showLine: true, borderColor: '#ff7f0e', borderWidth: 2.4,
        borderDash: [9, 4.5], pointRadius: 0, cubicInterpolationMode: 'monotone' },
      { label: 'events', data: toXY(bandEvents.concat(bandInfill, lowBand, sparseEvents)),
        backgroundColor: 'rgba(31,119,180,0.68)', borderWidth: 0, pointRadius: 1.7 }
    ]
  },
  options: {
    responsive: false,
    animation: false,
    layout: { padding: { top: 5, right: 0, left: 0, bottom: 0 } },
    plugins: { legend: { display: false }, tooltip: { enabled: false } },
    scales: {
      x: {
        type: 'linear', min: -5, max: 65.8,
        afterBuildTicks: setTicks(rightXTicks),
        afterFit: fixX(99),
        grid: gridOpts(),
        border: { display: false, dash: [6, 3.5] },
        ticks: { font: tickFont, padding: 12, autoSkip: false, maxRotation: 0, callback: v => String(v) }
      },
      y: {
        min: 0, max: 1600,
        afterBuildTicks: setTicks(rightYTicks),
        afterFit: fixY(139),
        grid: gridOpts(),
        border: { display: false, dash: [6, 3.5] },
        ticks: { font: tickFont, padding: 20, autoSkip: false, callback: v => String(v) },
        title: { display: true, text: 'Charge [ADC counts]', font: { size: 28 }, padding: { top: 11, bottom: 0 } }
      }
    }
  },
  plugins: [errorBars, frame, rightLegend]
});
</script>
</body>
</html>
